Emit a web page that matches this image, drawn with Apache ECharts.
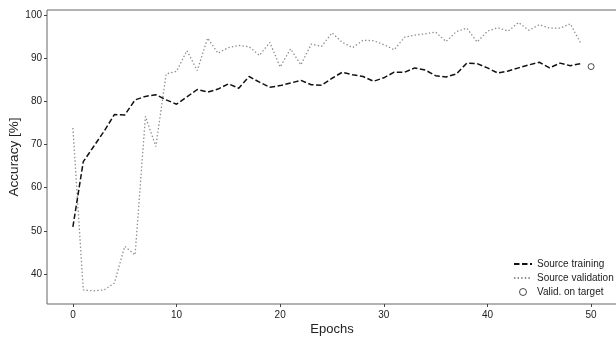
<!DOCTYPE html>
<html>
<head>
<meta charset="utf-8">
<script src="https://cdn.jsdelivr.net/npm/echarts@6/dist/echarts.min.js"></script>
<style>
html,body{margin:0;padding:0;background:#fff;}
#chart{width:616px;height:337px;}
</style>
</head>
<body>
<div id="chart"></div>
<script>
var epochs = [0,1,2,3,4,5,6,7,8,9,10,11,12,13,14,15,16,17,18,19,20,21,22,23,24,25,26,27,28,29,30,31,32,33,34,35,36,37,38,39,40,41,42,43,44,45,46,47,48,49];
var sourceTraining = [50.9,66.0,69.5,73.0,76.9,76.8,80.3,81.1,81.5,80.3,79.3,81.0,82.7,82.1,82.8,84.0,83.0,85.7,84.4,83.2,83.6,84.2,84.8,83.8,83.7,85.3,86.7,86.1,85.7,84.6,85.4,86.7,86.7,87.7,87.2,85.9,85.6,86.3,88.8,88.7,87.7,86.5,87.0,87.7,88.4,89.0,87.7,88.8,88.2,88.7];
var sourceValidation = [73.8,36.3,36.1,36.3,37.9,46.4,44.4,76.5,69.5,86.3,86.9,91.7,87.1,94.6,91.1,92.4,92.9,92.6,90.6,93.6,87.9,92.1,88.4,93.2,92.7,95.8,93.6,92.4,94.1,94.0,93.1,91.9,94.8,95.3,95.6,96.0,93.8,96.1,96.9,93.7,96.2,97.0,96.2,98.2,96.4,97.7,96.9,96.9,97.9,93.4];
var targetEpoch = [50];
var targetValue = [88.0];
var xTicks = [0,10,20,30,40,50];
var yTicks = [40,50,60,70,80,90,100];

var chart = echarts.init(document.getElementById('chart'), null, {renderer:'canvas'});
var font = 'Liberation Sans';
function pairs(xs, ys){ return xs.map(function(x,i){ return [x, ys[i]]; }); }

chart.setOption({
  animation:false,
  backgroundColor:'#fff',
  textStyle:{fontFamily:font},
  grid:{left:47, top:10, width:570, height:294, show:true, borderColor:'#666', borderWidth:1, containLabel:false, outerBoundsMode:'none'},
  legend:{
    orient:'vertical', left:513, top:259, padding:0, itemWidth:18, itemHeight:7, itemGap:4,
    textStyle:{fontFamily:font, fontSize:10, color:'#222'},
    data:[
      {name:'Source training', itemStyle:{opacity:0}},
      {name:'Source validation', itemStyle:{opacity:0}},
      {name:'Valid. on target', itemStyle:{color:'#fff', borderColor:'#222', borderWidth:1}}
    ]
  },
  xAxis:{
    type:'value', min:-2.5, max:52.5,
    name:'Epochs', nameLocation:'middle', nameGap:19, nameMoveOverlap:false,
    nameTextStyle:{fontFamily:font, fontSize:13, color:'#222'},
    axisLine:{show:false, onZero:false},
    axisTick:{show:true, length:3, lineStyle:{color:'#444'}, customValues:xTicks},
    axisLabel:{fontFamily:font, fontSize:10, color:'#222', margin:6, customValues:xTicks},
    splitLine:{show:false}
  },
  yAxis:{
    type:'value', min:33.05, max:101.1,
    name:'Accuracy [%]', nameLocation:'middle', nameGap:26, nameRotate:90, nameMoveOverlap:false,
    nameTextStyle:{fontFamily:font, fontSize:13.5, color:'#222'},
    axisLine:{show:false, onZero:false},
    axisTick:{show:true, length:3, lineStyle:{color:'#444'}, customValues:yTicks},
    axisLabel:{fontFamily:font, fontSize:10, color:'#222', margin:5, customValues:yTicks},
    splitLine:{show:false}
  },
  series:[
    {name:'Source training', type:'line', data:pairs(epochs, sourceTraining), showSymbol:false, symbol:'none',
     lineStyle:{color:'#111', width:1.5, type:[5.5,2.5]}, itemStyle:{color:'#111'}, z:3},
    {name:'Source validation', type:'line', data:pairs(epochs, sourceValidation), showSymbol:false, symbol:'none',
     lineStyle:{color:'#8c8c8c', width:1.3, type:[1.4,2.2]}, itemStyle:{color:'#8c8c8c'}, z:2},
    {name:'Valid. on target', type:'scatter', data:pairs(targetEpoch, targetValue), symbol:'circle', symbolSize:6,
     itemStyle:{color:'#fff', borderColor:'#222', borderWidth:1}, z:4}
  ]
});
</script>
</body>
</html>
